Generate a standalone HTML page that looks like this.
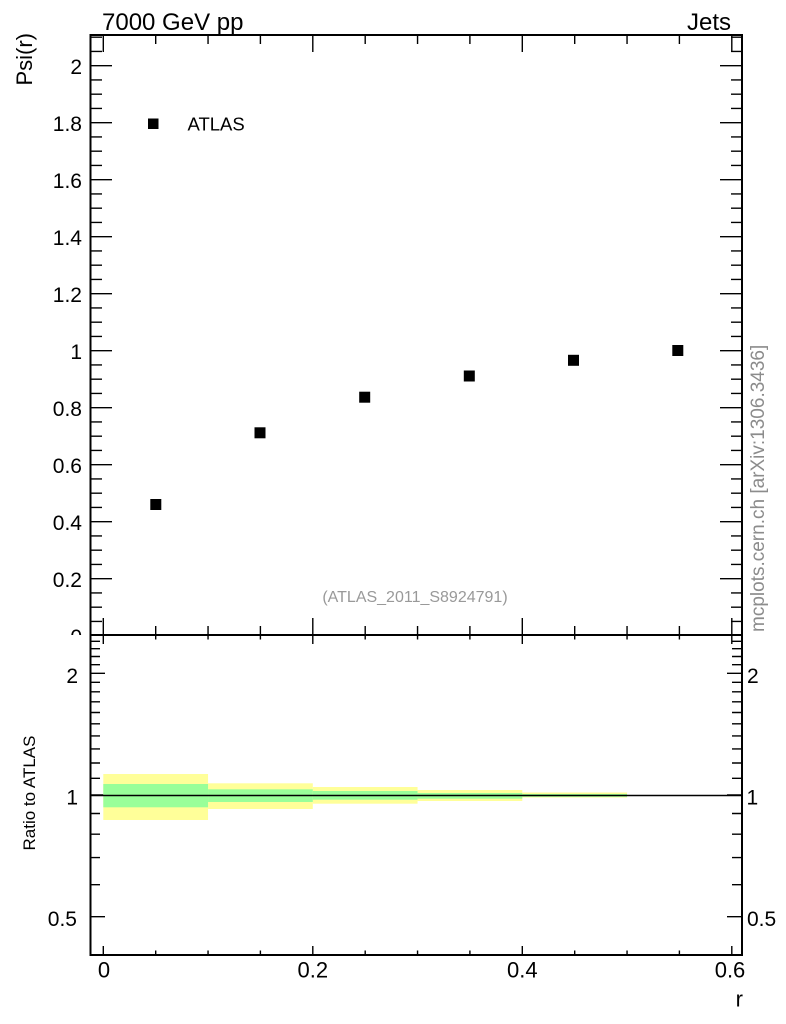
<!DOCTYPE html>
<html><head><meta charset="utf-8"><style>
html,body{margin:0;padding:0;background:#fff;}
svg{display:block;}
text{font-family:"Liberation Sans",Arial,sans-serif;}
</style></head><body>
<svg width="786" height="1024" viewBox="0 0 786 1024" xmlns="http://www.w3.org/2000/svg">
<defs><clipPath id="mc"><rect x="0" y="0" width="786" height="635"/></clipPath></defs>
<rect width="786" height="1024" fill="#fff"/>

<!-- Titles -->
<text x="102" y="30" font-size="24">7000 GeV pp</text>
<text x="731" y="30" font-size="24" text-anchor="end">Jets</text>
<text transform="translate(32,33) rotate(-90)" font-size="22" text-anchor="end">Psi(r)</text>

<!-- Main y labels -->
<g font-size="21" text-anchor="end" clip-path="url(#mc)">
<text x="82" y="74.2">2</text>
<text x="82" y="131.2">1.8</text>
<text x="82" y="188.2">1.6</text>
<text x="82" y="245.2">1.4</text>
<text x="82" y="302.2">1.2</text>
<text x="82" y="359.2">1</text>
<text x="82" y="416.2">0.8</text>
<text x="82" y="473.2">0.6</text>
<text x="82" y="530.2">0.4</text>
<text x="82" y="587.2">0.2</text>
<text x="82" y="644.2">0</text>
</g>

<!-- Main y ticks -->
<g stroke="#000" stroke-width="1.4">
<path d="M90 621.45h12M90 607.2h12M90 592.95h12M90 578.7h22M90 564.45h12M90 550.2h12M90 535.95h12M90 521.7h22M90 507.45h12M90 493.2h12M90 478.95h12M90 464.7h22M90 450.45h12M90 436.2h12M90 421.95h12M90 407.7h22M90 393.45h12M90 379.2h12M90 364.95h12M90 350.7h22M90 336.45h12M90 322.2h12M90 307.95h12M90 293.7h22M90 279.45h12M90 265.2h12M90 250.95h12M90 236.7h22M90 222.45h12M90 208.2h12M90 193.95h12M90 179.7h22M90 165.45h12M90 151.2h12M90 136.95h12M90 122.7h22M90 108.45h12M90 94.2h12M90 79.95h12M90 65.7h22M90 51.45h12M90 37.2h12"/>
<path d="M742 621.45h-11M742 607.2h-11M742 592.95h-11M742 578.7h-22M742 564.45h-11M742 550.2h-11M742 535.95h-11M742 521.7h-22M742 507.45h-11M742 493.2h-11M742 478.95h-11M742 464.7h-22M742 450.45h-11M742 436.2h-11M742 421.95h-11M742 407.7h-22M742 393.45h-11M742 379.2h-11M742 364.95h-11M742 350.7h-22M742 336.45h-11M742 322.2h-11M742 307.95h-11M742 293.7h-22M742 279.45h-11M742 265.2h-11M742 250.95h-11M742 236.7h-22M742 222.45h-11M742 208.2h-11M742 193.95h-11M742 179.7h-22M742 165.45h-11M742 151.2h-11M742 136.95h-11M742 122.7h-22M742 108.45h-11M742 94.2h-11M742 79.95h-11M742 65.7h-22M742 51.45h-11M742 37.2h-11"/>
<!-- main x ticks top -->
<path d="M103.3 35v17M155.7 35v9M208.05 35v9M260.4 35v9M312.8 35v17M365.2 35v9M417.55 35v9M469.9 35v9M522.3 35v17M574.7 35v9M627.05 35v9M679.4 35v9M731.8 35v17"/>
<!-- main x ticks bottom (up) -->
<path d="M103.3 635v-17M155.7 635v-9M208.05 635v-9M260.4 635v-9M312.8 635v-17M365.2 635v-9M417.55 635v-9M469.9 635v-9M522.3 635v-17M574.7 635v-9M627.05 635v-9M679.4 635v-9M731.8 635v-17"/>
<!-- ratio x ticks top (down) -->
<path d="M103.3 635v9M155.7 635v4.5M208.05 635v4.5M260.4 635v4.5M312.8 635v9M365.2 635v4.5M417.55 635v4.5M469.9 635v4.5M522.3 635v9M574.7 635v4.5M627.05 635v4.5M679.4 635v4.5M731.8 635v9"/>
<!-- ratio x ticks bottom (up) -->
<path d="M103.3 955v-9M155.7 955v-4.5M208.05 955v-4.5M260.4 955v-4.5M312.8 955v-9M365.2 955v-4.5M417.55 955v-4.5M469.9 955v-4.5M522.3 955v-9M574.7 955v-4.5M627.05 955v-4.5M679.4 955v-4.5M731.8 955v-9"/>
<!-- ratio y ticks left -->
<path d="M90 916.7h15M90 884.7h10M90 857.6h10M90 834.2h10M90 813.5h10M90 795h15M90 778.3h10M90 763h10M90 748.9h10M90 735.9h10M90 723.8h10M90 712.5h10M90 701.8h10M90 691.8h10M90 682.3h10M90 673.3h15M90 664.7h10M90 656.5h10M90 648.7h10M90 641.3h10"/>
<!-- ratio y ticks right -->
<path d="M742 916.7h-15M742 884.7h-10M742 857.6h-10M742 834.2h-10M742 813.5h-10M742 795h-15M742 778.3h-10M742 763h-10M742 748.9h-10M742 735.9h-10M742 723.8h-10M742 712.5h-10M742 701.8h-10M742 691.8h-10M742 682.3h-10M742 673.3h-15M742 664.7h-10M742 656.5h-10M742 648.7h-10M742 641.3h-10"/>
</g>

<!-- Legend -->
<rect x="148" y="118.5" width="10.5" height="10.5" fill="#000"/>
<text x="187.5" y="130.7" font-size="18.5">ATLAS</text>

<!-- Data points -->
<g fill="#000">
<rect x="150.3" y="499" width="11" height="11"/>
<rect x="254.5" y="427.3" width="11" height="11"/>
<rect x="359.2" y="391.7" width="11" height="11"/>
<rect x="463.8" y="370.5" width="11" height="11"/>
<rect x="568" y="354.8" width="11" height="11"/>
<rect x="672.3" y="345" width="11" height="11"/>
</g>

<text x="415" y="602" font-size="16" fill="#999" text-anchor="middle">(ATLAS_2011_S8924791)</text>
<text transform="translate(764,632) rotate(-90)" font-size="19" fill="#8c8c8c">mcplots.cern.ch [arXiv:1306.3436]</text>

<!-- Ratio bands -->
<g fill="#ffff99">
<rect x="103.3" y="774" width="104.75" height="46"/>
<rect x="208.05" y="783.3" width="104.75" height="25.7"/>
<rect x="312.8" y="787" width="104.75" height="16.7"/>
<rect x="417.55" y="790" width="104.75" height="11"/>
<rect x="522.3" y="792.5" width="104.75" height="5"/>
</g>
<g fill="#99ff99">
<rect x="103.3" y="784" width="104.75" height="23.3"/>
<rect x="208.05" y="789.3" width="104.75" height="12.7"/>
<rect x="312.8" y="791" width="104.75" height="8.7"/>
<rect x="417.55" y="793" width="104.75" height="5.7"/>
<rect x="522.3" y="794" width="104.75" height="2.8"/>
</g>
<line x1="90" y1="795.5" x2="742" y2="795.5" stroke="#000" stroke-width="1.5"/>

<!-- Ratio labels -->
<text transform="translate(35,793) rotate(-90)" font-size="17" text-anchor="middle">Ratio to ATLAS</text>
<g font-size="21" text-anchor="end">
<text x="78" y="683">2</text>
<text x="78" y="804.5">1</text>
<text x="77" y="926.2">0.5</text>
</g>
<g font-size="21">
<text x="747" y="683">2</text>
<text x="746.5" y="804.5">1</text>
<text x="747" y="926.2">0.5</text>
</g>

<!-- X labels -->
<g font-size="22" text-anchor="middle">
<text x="104" y="977.5">0</text>
<text x="312.8" y="977.5">0.2</text>
<text x="522.3" y="977.5">0.4</text>
<text x="730" y="977.5">0.6</text>
</g>
<text x="743" y="1006.5" font-size="22" text-anchor="end">r</text>

<!-- Frames -->
<g fill="none" stroke="#000" stroke-width="2">
<rect x="90.5" y="35" width="651.5" height="600"/>
<rect x="90.5" y="635" width="651.5" height="320"/>
</g>
</svg>
</body></html>
